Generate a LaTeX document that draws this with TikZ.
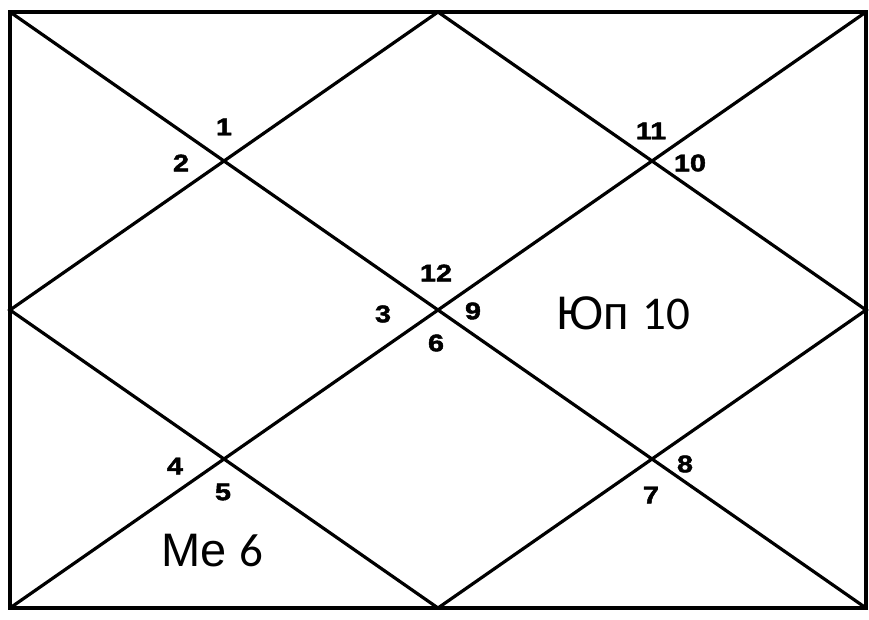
\documentclass[tikz,border=0pt]{standalone}
\usepackage{fontspec}
\setmainfont{Liberation Sans}
\newfontfamily\numfont[FakeStretch=1.2,FakeBold=2]{Liberation Sans Bold}
\newfontfamily\digfont{Carlito}
\usetikzlibrary{positioning}

\begin{document}
\begin{tikzpicture}[x=1pt,y=-1pt]
		\tikzstyle{house}=[line width=3.2pt,line cap=round,line join=miter]
		\tikzstyle{hnum}=[inner sep=0pt,font=\numfont\fontsize{24}{24}\selectfont]
		\tikzstyle{planet}=[inner sep=0pt,font=\fontsize{47}{47}\selectfont]
		\useasboundingbox (0,0) rectangle (869,620);
		\fill[white] (0,0) rectangle (869,620);
		% corners and midpoints of the chart
		\coordinate (tl) at (10,12);
		\coordinate (tr) at (866,12);
		\coordinate (br) at (866,608);
		\coordinate (bl) at (10,608);
		\coordinate (tm) at (438,12);
		\coordinate (rm) at (866,310);
		\coordinate (bm) at (438,608);
		\coordinate (lm) at (10,310);
		\draw[house] (tl) rectangle (br);
		\draw[house] (tl) -- (br);
		\draw[house] (tr) -- (bl);
		\draw[house] (tm) -- (rm) -- (bm) -- (lm) -- cycle;
		% house numbers
		\node[hnum] (h1)  at (224,127) {1};
		\node[hnum] (h2)  at (181,163) {2};
		\node[hnum] (h3)  at (383,314) {3};
		\node[hnum] (h4)  at (175,466) {4};
		\node[hnum] (h5)  at (223,492) {5};
		\node[hnum] (h6)  at (436,343) {6};
		\node[hnum] (h7)  at (651,495) {7};
		\node[hnum] (h8)  at (685,464) {8};
		\node[hnum] (h9)  at (473,311) {9};
		\node[hnum] (h10) at (690,163) {10};
		\node[hnum] (h11) at (651,131) {11};
		\node[hnum] (h12) at (436,273) {12};
		% planets
		\node[planet,anchor=base west] (jup) at (556,329) {Юп {\digfont 10}};
		\node[planet,anchor=base west] (mer) at (161,566) {Me {\digfont 6}};
	\end{tikzpicture}
\end{document}
